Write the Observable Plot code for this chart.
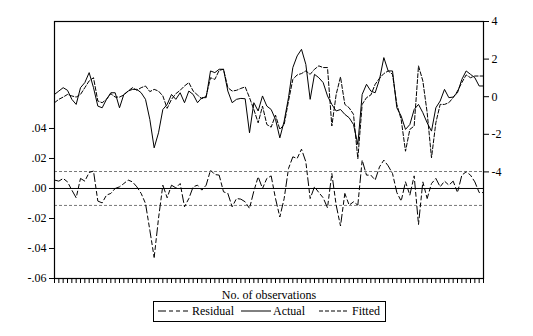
<!DOCTYPE html>
<html><head><meta charset="utf-8">
<script src="https://cdn.jsdelivr.net/npm/d3@7"></script>
<script src="https://cdn.jsdelivr.net/npm/@observablehq/plot@0.6"></script>
<style>
body{margin:0;background:#fff;font-family:"Liberation Serif","Times New Roman",serif;}
#wrap{position:relative;width:533px;height:336px;overflow:hidden;}
#wrap > svg{position:absolute;left:0;top:0;}
#legend{position:absolute;left:153px;top:301px;width:231px;height:19px;border:1px solid #000;font-size:12px;color:#000;}
#legend .s{position:absolute;top:7px;}
#legend .t{position:absolute;top:1px;line-height:16px;}
</style></head><body><div id="wrap"></div>
<script>
// Actual (right axis)
const actual = [0.12,0.30,0.48,0.34,-0.14,-0.41,0.48,0.75,1.28,0.48,
 -0.50,-0.59,-0.14,0.21,0.21,-0.59,0.12,0.30,0.39,0.39,
 0.21,-0.14,-1.21,-2.72,-1.92,-0.68,-0.41,0.12,-0.14,0.21,
 -0.32,0.30,0.12,-0.32,-0.05,-0.05,1.37,1.28,1.46,1.46,
 0.30,-0.32,-0.14,-0.09,-0.11,-1.92,-0.32,-0.76,0.04,-0.50,
 -0.68,-1.21,-2.19,-1.30,-0.05,1.55,2.17,2.52,1.72,-0.14,
 1.19,1.01,0.75,0.04,-0.41,-0.76,-0.68,-0.94,-1.12,-1.48,
 -2.54,0.12,0.66,0.30,0.21,0.92,2.08,1.37,1.37,-0.59,
 -1.03,-1.74,-1.48,-0.68,-0.41,-0.85,-1.39,-1.83,-0.59,-0.23,
 0.39,-0.05,-0.02,0.21,0.92,1.37,1.19,1.01,0.57,0.57];
// Fitted (right axis)
const fitted = [-0.32,-0.14,-0.02,0.12,0.04,-0.02,0.12,0.48,0.84,1.01,
 -0.23,-0.32,-0.14,0.16,-0.02,-0.02,0.09,0.30,0.48,0.34,
 0.48,0.57,0.27,0.39,0.30,0.04,-0.62,-0.14,0.16,0.34,
 0.57,0.75,0.30,0.09,-0.11,0.04,1.01,0.92,1.40,1.46,
 0.48,0.30,0.34,0.44,0.52,-0.05,-0.68,-1.39,-0.50,-1.48,
 -1.62,-0.98,-1.74,-1.48,-0.23,0.92,1.16,1.23,1.37,1.19,
 1.46,1.64,1.55,1.55,-1.56,0.12,1.05,-0.41,-0.59,-0.94,
 -3.30,-0.41,-0.05,0.09,0.66,0.98,1.23,1.37,1.19,-0.41,
 -1.21,-2.90,-1.74,-1.56,1.64,0.84,-0.85,-3.25,-1.39,-0.41,
 -0.41,-0.32,-0.05,0.30,0.75,1.16,1.01,1.10,1.10,1.10];
// Residual (left axis)
const residual = [0.0056,0.0049,0.0067,0.0044,-0.0011,-0.0062,0.0067,0.0049,0.0107,0.0116,
 -0.0084,-0.0096,-0.0044,-0.0033,0.0000,0.0011,0.0033,0.0056,0.0044,0.0011,
 -0.0033,-0.0100,-0.0278,-0.0460,-0.0200,0.0022,-0.0062,0.0022,0.0004,0.0033,
 -0.0122,-0.0067,0.0011,0.0022,-0.0011,0.0022,0.0122,0.0093,0.0089,-0.0022,
 -0.0033,-0.0122,-0.0067,-0.0071,-0.0089,-0.0133,-0.0018,0.0078,0.0000,0.0067,
 0.0084,-0.0067,-0.0190,-0.0067,0.0133,0.0211,0.0200,0.0262,0.0178,-0.0067,
 0.0011,-0.0027,-0.0062,-0.0129,0.0100,-0.0111,-0.0250,-0.0033,-0.0111,-0.0089,
 -0.0111,0.0189,0.0089,0.0089,0.0056,0.0144,0.0189,0.0151,0.0100,-0.0027,
 -0.0084,0.0044,-0.0044,0.0084,-0.0240,0.0044,-0.0067,0.0033,0.0067,0.0011,
 0.0049,0.0022,0.0049,-0.0027,0.0089,0.0111,0.0089,0.0044,-0.0027,-0.0027];
const obs = actual.map((_, i) => i + 1);
const leftTicks = [-0.06, -0.04, -0.02, 0, 0.02, 0.04];
const rightTicks = [-4, -2, 0, 2, 4];
const seBand = [0.0113, -0.0113];
const seriesNames = ["Residual", "Actual", "Fitted"];

const W = 533, H = 301, mL = 54, mR = 50, mT = 21, mB = 23;
const font = {fontFamily: "Liberation Serif, Times New Roman, serif", fontSize: "12px", color: "#000", background: "transparent"};

const p1 = Plot.plot({
  width: W, height: H, marginLeft: mL, marginRight: mR, marginTop: mT, marginBottom: mB,
  style: font,
  x: {domain: [1, obs.length]},
  y: {domain: [-0.06, 0.1113]},
  marks: [
    Plot.ruleY(seBand, {stroke: "#777", strokeWidth: 1, strokeDasharray: "3,2"}),
    Plot.ruleY([0], {stroke: "#000", strokeWidth: 1}),
    Plot.lineY(residual, {x: obs, stroke: "#000", strokeWidth: 1, strokeDasharray: "8,3,4,3,4,3"}),
    Plot.frame({stroke: "#000", strokeWidth: 1.2}),
    Plot.axisY({ticks: leftTicks, tickFormat: d => d3.format(".2f")(d).replace("\u2212", "-").replace("0.", "."), tickSize: 5, tickPadding: 3, label: null}),
    Plot.axisX({ticks: obs, tickFormat: () => "", tickSize: 5, label: "No. of observations", labelAnchor: "center", labelArrow: "none", labelOffset: 20})
  ]
});
const p2 = Plot.plot({
  width: W, height: H, marginLeft: mL, marginRight: mR, marginTop: mT, marginBottom: mB,
  style: font,
  x: {domain: [1, obs.length], axis: null},
  y: {domain: [-9.67, 4]},
  marks: [
    Plot.lineY(fitted, {x: obs, stroke: "#000", strokeWidth: 1, strokeDasharray: "4,2"}),
    Plot.lineY(actual, {x: obs, stroke: "#000", strokeWidth: 1}),
    Plot.axisY({anchor: "right", ticks: rightTicks, tickFormat: d => String(d), tickSize: 5, tickPadding: 3, label: null})
  ]
});
const wrap = document.getElementById("wrap");
wrap.appendChild(p1);
wrap.appendChild(p2);

const leg = document.createElement("div");
leg.id = "legend";
const dashes = ["8,3,4,3,4,3", null, "4,2"];
const sx = [4, 87, 165], tx = [38, 119, 198];
seriesNames.forEach((name, i) => {
  const s = document.createElementNS("http://www.w3.org/2000/svg", "svg");
  s.setAttribute("class", "s"); s.setAttribute("width", 30); s.setAttribute("height", 4);
  s.style.left = sx[i] + "px";
  const l = document.createElementNS("http://www.w3.org/2000/svg", "line");
  l.setAttribute("x1", 0); l.setAttribute("x2", 30); l.setAttribute("y1", 2); l.setAttribute("y2", 2);
  l.setAttribute("stroke", "#000"); l.setAttribute("stroke-width", 1);
  if (dashes[i]) l.setAttribute("stroke-dasharray", dashes[i]);
  s.appendChild(l); leg.appendChild(s);
  const t = document.createElement("span");
  t.className = "t"; t.style.left = tx[i] + "px"; t.textContent = name;
  leg.appendChild(t);
});
wrap.appendChild(leg);
</script></body></html>
